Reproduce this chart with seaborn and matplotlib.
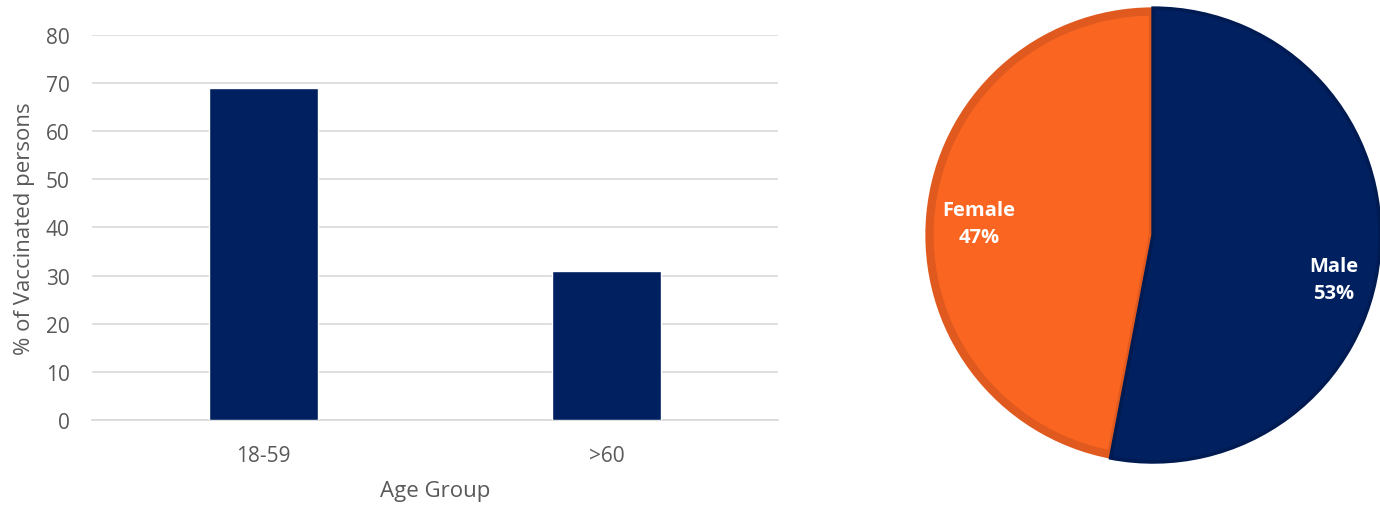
import matplotlib
matplotlib.use("Agg")
import matplotlib.pyplot as plt
import seaborn as sns
import pandas as pd
import numpy as np

age_groups = ["18-59", ">60"]
vaccinated_pct = [69, 31]
genders = ["Female", "Male"]
gender_pct = [47, 53]

sns.set_theme(style="white")
plt.rcParams['font.family'] = ['Open Sans', 'DejaVu Sans']

NAVY = "#002060"
ORANGE = "#FA6621"
GREY = "#595959"

fig = plt.figure(figsize=(13.8, 5.06), dpi=100)
ax = fig.add_axes([0.0667, 0.168, 0.497, 0.761])
df = pd.DataFrame({"Age Group": age_groups, "pct": vaccinated_pct})
sns.barplot(data=df, x="Age Group", y="pct", color=NAVY, saturation=1,
            width=0.32, ax=ax, zorder=3)
ax.set_ylim(0, 80)
ax.set_xlim(-0.5, 1.5)
ax.set_yticks(range(0, 81, 10))
ax.yaxis.grid(True, color="#D9D9D9", linewidth=1.2, zorder=0)
for s in ["top", "right", "left"]:
    ax.spines[s].set_visible(False)
ax.spines["bottom"].set_color("#D9D9D9")
ax.spines["bottom"].set_linewidth(1.2)
ax.tick_params(axis="y", length=0, labelsize=15, labelcolor=GREY, pad=16)
ax.tick_params(axis="x", length=0, labelsize=15, labelcolor=GREY, pad=18)
ax.set_xlabel("Age Group", fontsize=16, color=GREY, labelpad=10)
ax.set_ylabel("% of Vaccinated persons", fontsize=16, color=GREY, labelpad=8)

pax = fig.add_axes([0.6678, 0.076, 0.3355, 0.915])
wedges, texts, autotexts = pax.pie(
    gender_pct, colors=[ORANGE, NAVY], startangle=90, counterclock=True,
    autopct=lambda p: "", pctdistance=0.8,
    wedgeprops=dict(linewidth=0))
wedges[0].set_edgecolor("#E05A1F")
wedges[0].set_linewidth(6)
wedges[0].set_radius(0.985)
wedges[1].set_edgecolor("#001A52")
wedges[1].set_linewidth(2.5)
for w in wedges:
    w.set_joinstyle("miter")
offsets = [(0.77, 1.5), (0.82, -8.5)]
for t, w, g, v, (r, da) in zip(autotexts, wedges, genders, gender_pct, offsets):
    mid = np.deg2rad((w.theta1 + w.theta2) / 2 + da)
    t.set_position((r * np.cos(mid), r * np.sin(mid)))
    t.set_text(f"{g}\n{v}%")
    t.set_color("white")
    t.set_fontsize(14.5)
    t.set_fontweight("bold")
    t.set_linespacing(1.45)
pax.set_xlim(-1.02, 1.02)
pax.set_ylim(-1.02, 1.02)
pax.set_aspect("equal")

fig.savefig("out.png", dpi=100, facecolor="white")
